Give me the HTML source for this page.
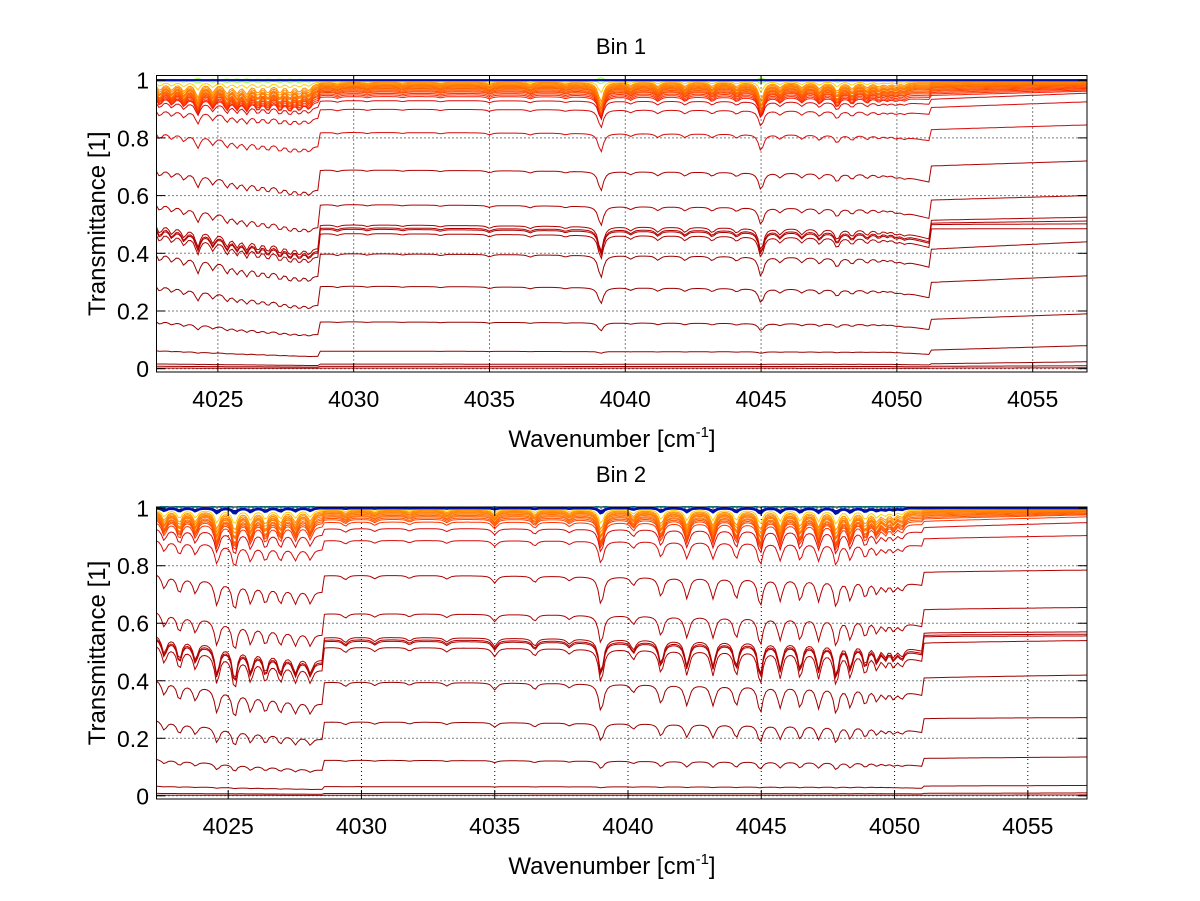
<!DOCTYPE html>
<html><head><meta charset="utf-8"><title>Bin transmittance spectra</title>
<style>
html,body{margin:0;padding:0;background:#fff;}
svg{display:block;font-family:"Liberation Sans",Arial,sans-serif;}
</style></head>
<body>
<svg id="fig" width="1200" height="901" viewBox="0 0 1200 901" xmlns="http://www.w3.org/2000/svg">
<rect x="0" y="0" width="1200" height="901" fill="#fff"/>
</svg>
<script>
// ---------- data ----------
const xTicks = [4025, 4030, 4035, 4040, 4045, 4050, 4055];
const yTicks = [0, 0.2, 0.4, 0.6, 0.8, 1];
const yTickLabels = ["0", "0.2", "0.4", "0.6", "0.8", "1"];

// Bin 1 absorption lines (wavenumber, relative strength)
const bin1LinePos = [4022.86,4023.3,4023.75,4024.26,4024.81,4025.33,4025.7,4026.06,4026.47,4026.84,4027.28,4027.65,4028.0,4028.35,
  4029.4,4030.5,4031.8,4033.2,4035.0,4036.5,4037.8,4039.1,4040.2,4041.2,4042.2,4043.2,4044.1,4045.0,4045.7,4046.5,4047.15,4047.8,4048.35,4048.9,4049.33,4049.65,4049.96,4050.27];
const bin1LineStr = [0.4,0.35,0.4,0.7,0.45,0.5,0.45,0.5,0.45,0.45,0.45,0.45,0.4,0.35,
  0.08,0.06,0.05,0.06,0.1,0.1,0.08,1.0,0.15,0.2,0.2,0.2,0.2,0.9,0.25,0.25,0.3,0.45,0.3,0.25,0.2,0.15,0.15,0.12];
// Bin 1 curves: mid-band level, level at right end, line depth
const bin1Mid   = [1.0,1.0,1.0,0.999,0.998,0.996,0.993,0.99,0.987,0.984,0.981,0.978,0.975,0.972,0.968,0.964,0.96,0.955,0.95,0.944,0.93,0.90,0.82,0.69,0.57,0.50,0.49,0.485,0.47,0.40,0.287,0.163,0.061,0.016,0.008,0.002];
const bin1Right = [1.0,1.0,1.0,0.999,0.999,0.998,0.996,0.994,0.992,0.99,0.988,0.986,0.984,0.982,0.979,0.976,0.973,0.97,0.966,0.962,0.955,0.925,0.845,0.72,0.6,0.525,0.512,0.502,0.485,0.44,0.322,0.19,0.08,0.024,0.01,0.003];
const bin1Depth = [0.0,0.0,0.0,-0.01,0.01,0.04,0.07,0.08,0.09,0.09,0.09,0.1,0.1,0.1,0.1,0.1,0.09,0.09,0.09,0.08,0.07,0.07,0.08,0.1,0.12,0.18,0.18,0.18,0.18,0.2,0.2,0.18,0.1,0.05,0.02,0.0];

// Bin 2 absorption lines
const bin2LinePos = [4022.6,4023.17,4023.77,4024.58,4025.24,4025.84,4026.4,4026.96,4027.52,4028.08,
  4029.4,4030.5,4031.8,4033.2,4035.0,4036.5,4037.8,4038.99,4040.2,4041.24,4042.21,4043.19,4044.06,4044.96,4045.71,4046.46,4047.15,4047.81,4048.34,4048.9,4049.33,4049.65,4049.96,4050.27];
const bin2LineStr = [0.5,0.6,0.55,0.9,1.0,0.7,0.65,0.6,0.55,0.5,
  0.15,0.12,0.1,0.12,0.25,0.22,0.15,1.0,0.3,0.7,0.75,0.75,0.75,1.0,0.8,0.8,0.8,1.0,0.75,0.65,0.5,0.38,0.35,0.3];
const bin2Mid   = [1.0,1.0,1.0,1.002,1.001,0.999,0.996,0.993,0.99,0.987,0.984,0.98,0.976,0.972,0.967,0.962,0.953,0.93,0.889,0.768,0.635,0.553,0.545,0.540,0.518,0.397,0.258,0.124,0.032,0.008,0.002];
const bin2Right = [1.0,1.0,1.0,1.002,1.001,0.999,0.998,0.996,0.994,0.992,0.99,0.988,0.986,0.983,0.98,0.977,0.97,0.95,0.905,0.785,0.655,0.57,0.562,0.556,0.54,0.42,0.272,0.135,0.036,0.01,0.003];
const bin2Depth = [0.015,0.02,0.01,-0.015,-0.01,0.02,0.05,0.07,0.08,0.09,0.09,0.09,0.1,0.1,0.1,0.1,0.1,0.09,0.09,0.13,0.16,0.22,0.22,0.22,0.23,0.25,0.25,0.22,0.1,0.03,0.0];

// ---------- rendering ----------
const svg = document.getElementById('fig');
const NS = 'http://www.w3.org/2000/svg';
function mk(tag, attrs, parent) {
  const e = document.createElementNS(NS, tag);
  for (const k in attrs) e.setAttribute(k, attrs[k]);
  (parent || svg).appendChild(e);
  return e;
}

function colorFor(level) {
  const u = 1 - level;
  if (u < -0.0015) return '#00c8ff';
  if (u < -0.0005) return '#20e0c0';
  if (u < 0.0005) return '#0010a8';
  if (u < 0.0025) return '#a0ff50';
  if (u < 0.005) return '#ffd000';
  if (u < 0.06) {
    const t = (u - 0.005) / 0.055;
    const g = Math.round(150 - 130 * t);
    return 'rgb(255,' + g + ',0)';
  }
  if (u < 0.2) return '#d80a0a';
  if (u < 0.6) return '#b00000';
  return '#9a0000';
}

function drawPanel(p) {
  const g = mk('g', {});
  
  
  const L = 156.5, R = 1087, T = p.top, B = p.bottom;
  const xs = v => L + (v - p.xmin) / (p.xmax - p.xmin) * (R - L);
  const ys = v => p.y0 - v * (p.y0 - p.y1);

  const grid = mk('g', {}, g);
  
  
  xTicks.forEach(t => {
    mk('line', {x1: xs(t), x2: xs(t), y1: T, y2: B, stroke: '#000', 'stroke-width': 1, 'stroke-dasharray': '1,3'}, grid);
  });
  yTicks.forEach(t => {
    mk('line', {x1: L, x2: R, y1: ys(t), y2: ys(t), stroke: '#000', 'stroke-width': 1, 'stroke-dasharray': '1,3'}, grid);
  });

  const clip = 'clip-' + p.name;
  const cp = mk('clipPath', {id: clip}, g);
  mk('rect', {x: L, y: T - 1, width: R - L, height: B - T + 2}, cp);
  const cg = mk('g', {'clip-path': 'url(#' + clip + ')'}, g);
  
  

  const step = 0.09, hw = 0.11;
  const prof = [];
  for (let x = p.xmin; x <= p.xmax + step; x += step) {
    let s = 0;
    for (let j = 0; j < p.pos.length; j++) {
      const d = (x - p.pos[j]) / hw;
      s += p.str[j] / (1 + d * d);
    }
    prof.push([x, Math.min(s, 1.4)]);
  }
  const order = p.mid.map((m, i) => i).sort((a, b) => p.mid[b] - p.mid[a]);
  const blues = order.filter(i => Math.abs(1 - p.mid[i]) < 0.0005);
  const others = order.filter(i => Math.abs(1 - p.mid[i]) >= 0.0005);
  others.concat(blues).forEach(i => {
    const m = p.mid[i], r = p.right[i], dep = p.depth[i];
    const ma = m * Math.max(0, 1 - m);
    let d = '';
    prof.forEach(([x, s], k) => {
      let c;
      if (x < p.e1) {
        const t = (x - p.xmin) / (p.e1 - p.xmin);
        c = m - ma * (-0.04 + 0.36 * t);
      } else if (x < p.e2) {
        const t = (x - p.e1) / (p.e2 - p.e1);
        const tail = x > p.e2 - 1.5 ? (x - p.e2 + 1.5) / 1.5 : 0;
        c = m - ma * (0.06 * t + 0.14 * tail);
      } else {
        const t = (x - p.e2) / (p.xmax - p.e2);
        const c0 = m + ma * 0.06;
        c = c0 + (r - c0) * t;
      }
      let v = c * (1 - dep * s);
      if (v > 1.03) v = 1.03;
      d += (k ? 'L' : 'M') + xs(x).toFixed(1) + ' ' + ys(v).toFixed(1);
    });
    const path = mk('path', {d: d, fill: 'none', stroke: colorFor(m), 'stroke-width': Math.abs(1 - m) < 0.0005 ? 1.8 : 1}, cg);
    
    
  });

  const ax = mk('g', {}, g);
  
  
  mk('rect', {x: L, y: T, width: R - L, height: B - T, fill: 'none', stroke: '#000', 'stroke-width': 1}, ax);
  xTicks.forEach(t => {
    mk('line', {x1: xs(t), x2: xs(t), y1: B, y2: B - 9, stroke: '#000'}, ax);
    mk('line', {x1: xs(t), x2: xs(t), y1: T, y2: T + 9, stroke: '#000'}, ax);
    const tx = mk('text', {x: xs(t), y: B + 35, 'font-size': 23, 'text-anchor': 'middle', fill: '#000'}, g);
    tx.textContent = t;
    
    
  });
  yTicks.forEach((t, i) => {
    mk('line', {x1: L, x2: L + 9, y1: ys(t), y2: ys(t), stroke: '#000'}, ax);
    mk('line', {x1: R, x2: R - 9, y1: ys(t), y2: ys(t), stroke: '#000'}, ax);
    const tx = mk('text', {x: 149, y: ys(t) + 8.5, 'font-size': 23, 'text-anchor': 'end', fill: '#000'}, g);
    tx.textContent = yTickLabels[i];
    
    
  });

  const title = mk('text', {x: 621, y: p.titleY, 'font-size': 22, 'text-anchor': 'middle', fill: '#000'}, g);
  title.textContent = p.title;
  
  

  const xl = mk('text', {x: 612, y: B + 75, 'font-size': 24, 'text-anchor': 'middle', fill: '#000'}, g);
  xl.innerHTML = 'Wavenumber [cm<tspan font-size="15" dy="-10">-1</tspan><tspan dy="10">]</tspan>';
  
  

  const cy = (T + B) / 2;
  const yl = mk('text', {x: 0, y: 0, 'font-size': 24, 'text-anchor': 'middle', fill: '#000', transform: 'translate(105,' + cy + ') rotate(-90)'}, g);
  yl.textContent = 'Transmittance [1]';
  
  
}

drawPanel({name: 'bin-1-panel', title: 'Bin 1', titleY: 54, top: 75.5, bottom: 372, y0: 368.7, y1: 80.2,
  xmin: 4022.74, xmax: 4057.0, e1: 4028.7, e2: 4051.2,
  pos: bin1LinePos, str: bin1LineStr, mid: bin1Mid, right: bin1Right, depth: bin1Depth});
drawPanel({name: 'bin-2-panel', title: 'Bin 2', titleY: 482, top: 507, bottom: 799, y0: 795.8, y1: 508.2,
  xmin: 4022.31, xmax: 4057.22, e1: 4028.6, e2: 4051.1,
  pos: bin2LinePos, str: bin2LineStr, mid: bin2Mid, right: bin2Right, depth: bin2Depth});
</script>
</body></html>
